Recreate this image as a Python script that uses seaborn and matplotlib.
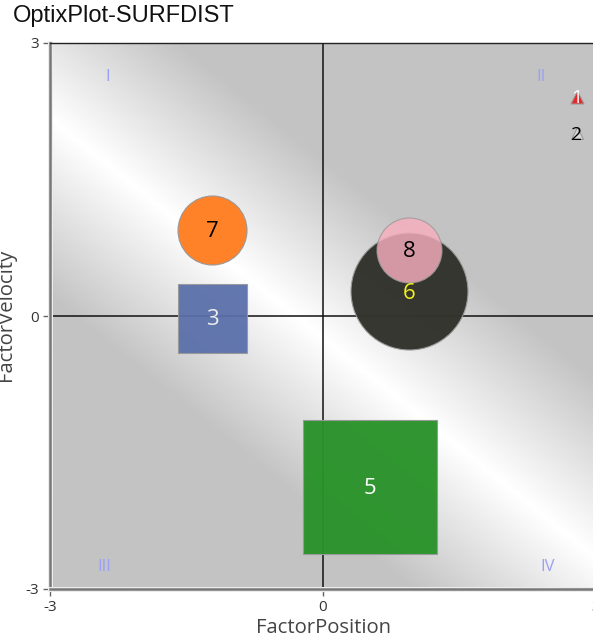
import numpy as np
import pandas as pd
import matplotlib
matplotlib.use("Agg")
import matplotlib.pyplot as plt
import matplotlib.patheffects as pe
import seaborn as sns

# bubble values
ids = ["6", "1", "2", "3", "5", "7", "8"]
factor_position = [0.95, 2.79, 2.79, -1.22, 0.52, -1.22, 0.95]
factor_velocity = [0.27, 2.41, 2.01, -0.02, -1.88, 0.95, 0.73]
bubble_px = [117, 13, 12, 69, 134, 69, 65]
bubble_markers = ["o", "^", "^", "s", "s", "o", "o"]
bubble_colors = ["#33332d", "#e8272b", "#d8d8d8", "#5b70ab", "#2a932a", "#ff8128", "#f7afbd"]
bubble_alpha = [0.98, 1.0, 1.0, 0.95, 0.97, 1.0, 0.82]
label_colors = ["#f2f21e", "white", "black", "#eeeeee", "white", "black", "black"]

quadrants = ["I", "II", "III", "IV"]
quadrant_x = [-2.37, 2.40, -2.40, 2.47]
quadrant_y = [2.63, 2.63, -2.76, -2.76]

ticks = [-3, 0, 3]

W, H = 593, 641
sns.set_theme(style="white")
plt.rcParams["font.family"] = ["Open Sans", "DejaVu Sans"]
plt.rcParams["axes.unicode_minus"] = False

fig = plt.figure(figsize=(W / 100, H / 100), dpi=100)
ax = fig.add_axes([50 / W, 1 - 589 / H, 546 / W, 546 / H])

# background sheen, a diagonal band going white in the middle
gx, gy = np.meshgrid(np.linspace(-3, 3, 400), np.linspace(-3, 3, 400))
band = np.clip(np.abs(0.627 * gx + 0.779 * gy + 0.187) / 1.55, 0, 1)
ax.imshow(band, extent=(-3, 3, -3, 3), origin="lower", cmap="gray_r", vmin=0, vmax=4.2,
          aspect="auto", zorder=0, interpolation="bilinear")

ax.axhline(0, color="#111111", lw=1.1, zorder=1)
ax.axvline(0, color="#111111", lw=1.1, zorder=1)

df = pd.DataFrame({"x": factor_position, "y": factor_velocity})
for i in range(len(ids)):
    size = (bubble_px[i] * 0.72) ** 2
    sns.scatterplot(data=df.iloc[[i]], x="x", y="y", ax=ax, s=size, marker=bubble_markers[i],
                    color=bubble_colors[i], alpha=bubble_alpha[i], edgecolor="#999999",
                    linewidth=0.8, zorder=2 + i * 0.1, legend=False, clip_on=True)
    ax.annotate(ids[i], (factor_position[i], factor_velocity[i]), xytext=(0, -1.2),
                textcoords="offset points", color=label_colors[i],
                fontsize=14 if bubble_px[i] < 20 else 16, ha="center", va="center", zorder=4)

for q, qx, qy in zip(quadrants, quadrant_x, quadrant_y):
    ax.text(qx, qy, q, color="#9aa0f5", fontsize=12, ha="center", va="center", zorder=1)

ax.set_xlim(-3, 3)
ax.set_ylim(-3, 3)
ax.set_xticks(ticks)
ax.set_yticks(ticks)
ax.tick_params(length=5, width=1, color="#666666", labelsize=11, labelcolor="#333333", pad=3,
               bottom=True, left=True)
for side in ["left", "bottom"]:
    ax.spines[side].set_color("#777777")
    ax.spines[side].set_linewidth(1.8)
    ax.spines[side].set_path_effects([pe.withStroke(linewidth=3.6, foreground="#ececec")])
ax.spines["top"].set_color("#222222")
ax.spines["top"].set_linewidth(1)
ax.spines["right"].set_visible(False)

ax.set_xlabel("")
ax.set_ylabel("")
fig.text(323 / W, 1 - 628 / H, "FactorPosition", fontsize=14.6, color="#444444", ha="center", va="center")
fig.text(6 / W, 1 - 315 / H, "FactorVelocity", fontsize=14.6, color="#444444", ha="center", va="center",
         rotation=90)
fig.text(13 / W, 1 - 16 / H, "OptixPlot-SURFDIST", fontsize=17, color="#111111", ha="left", va="center",
         family=["Liberation Sans"])

fig.savefig("out.png", dpi=100)
